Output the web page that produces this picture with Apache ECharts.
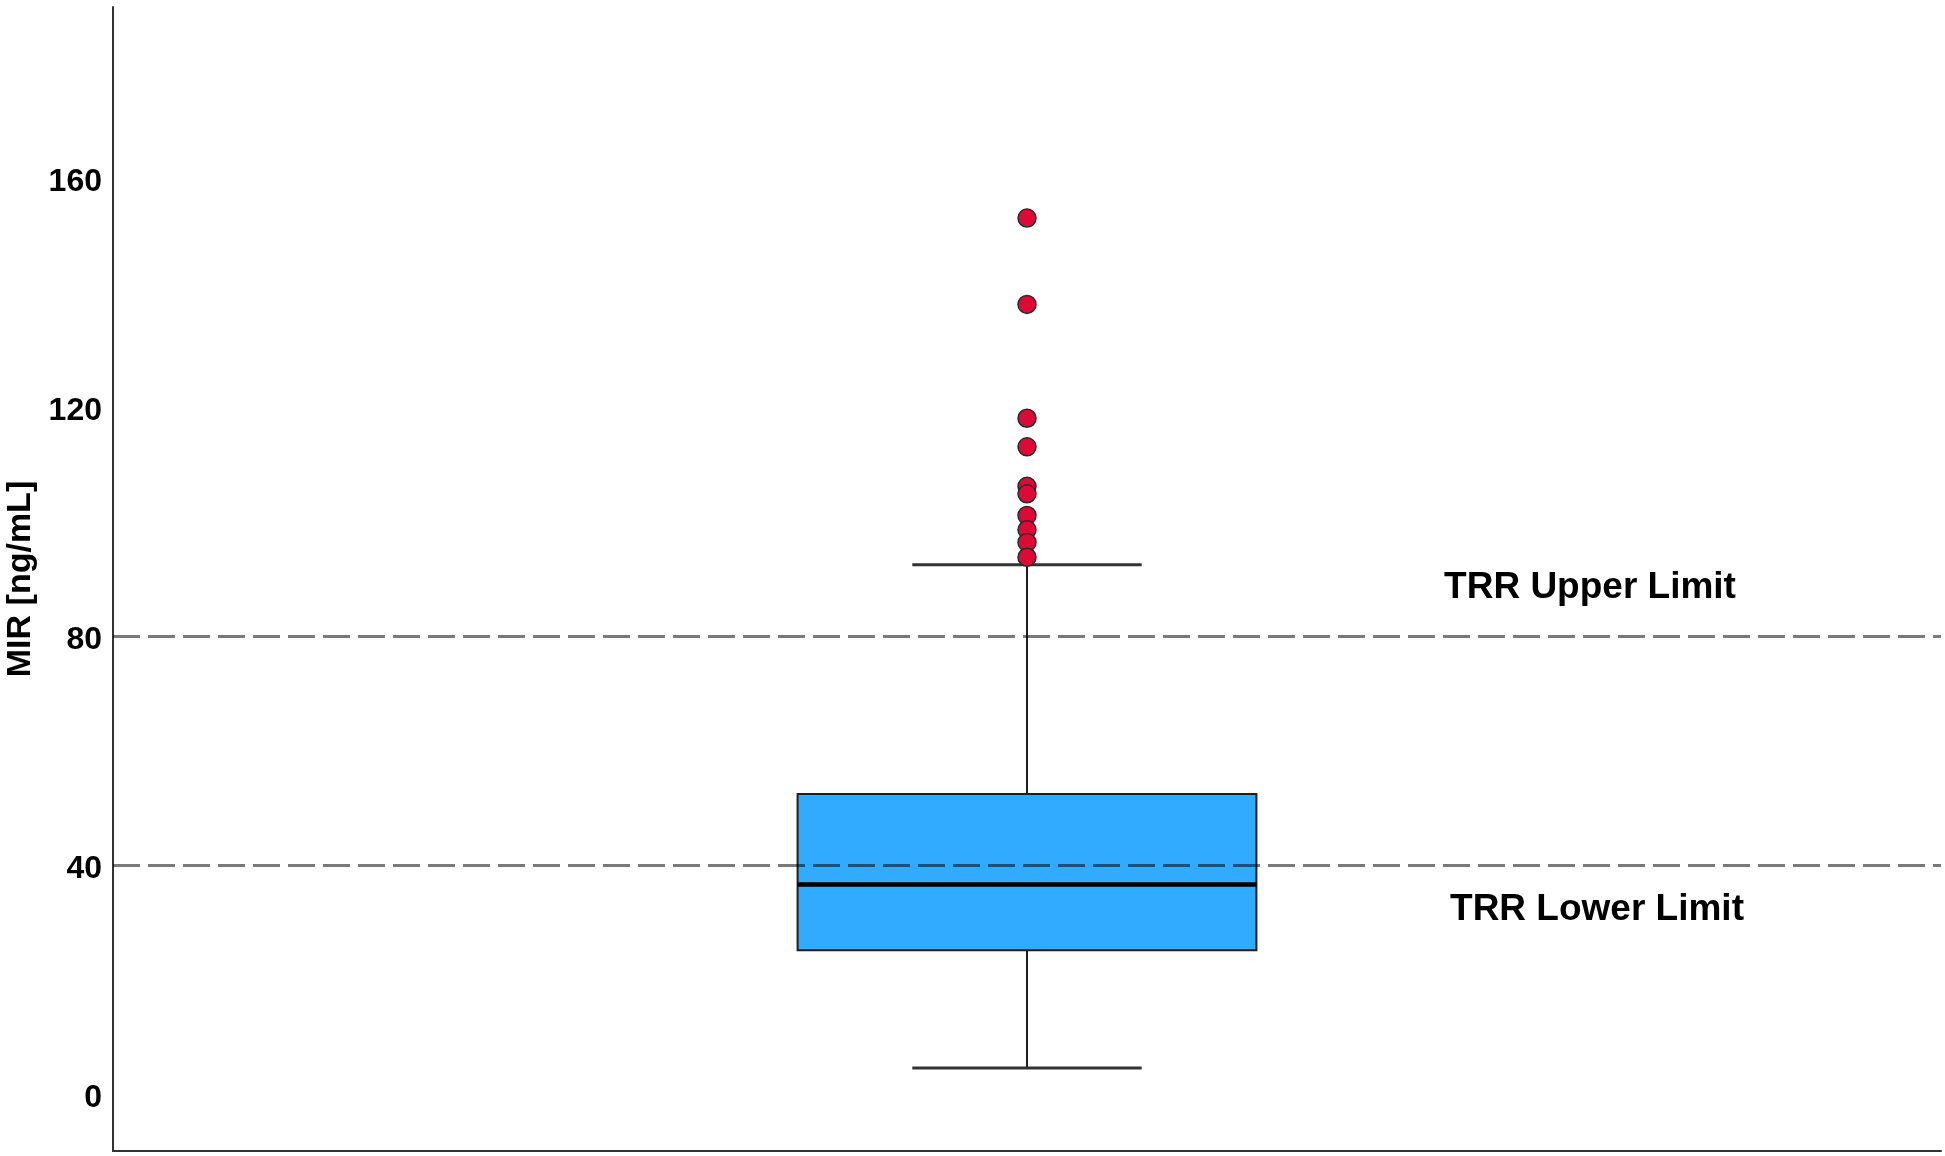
<!DOCTYPE html>
<html>
<head>
<meta charset="utf-8">
<script src="https://cdn.jsdelivr.net/npm/echarts@6/dist/echarts.min.js"></script>
<style>
html,body{margin:0;padding:0;background:#fff;}
#chart{width:1945px;height:1156px;}
</style>
</head>
<body>
<div id="chart"></div>
<script>
// ---- data ----
const categories = ['MIR'];
// [min whisker, Q1, median, Q3, max whisker]
const boxStats = [4.5, 25.1, 36.6, 52.4, 92.5];
const outliers = [153.1, 138.0, 118.1, 113.1, 106.2, 104.9, 101.1, 98.6, 96.4, 93.8];
const yTickLabels = [0, 40, 80, 120, 160];
const refLines = [80, 40];
const refLabels = ['TRR Upper Limit', 'TRR Lower Limit'];
const refLabelValues = [88.5, 32.1];

const chart = echarts.init(document.getElementById('chart'), null, {renderer: 'canvas'});

const labelFont = '"Liberation Sans Narrow", "Arial Narrow", "Liberation Sans", Arial, sans-serif';

const option = {
  backgroundColor: '#ffffff',
  animation: false,
  grid: {left: 113, right: 4, top: 7, bottom: 5, containLabel: false, outerBoundsMode: 'none'},
  xAxis: {
    type: 'category',
    data: categories,
    boundaryGap: true,
    axisLine: {show: true, onZero: false, lineStyle: {color: '#333', width: 2}},
    axisTick: {show: false},
    axisLabel: {show: false},
    splitLine: {show: false}
  },
  yAxis: {
    type: 'value',
    min: -10,
    max: 190,
    interval: 10,
    name: 'MIR [ng/mL]',
    nameLocation: 'middle',
    nameGap: 75,
    nameRotate: 90,
    nameTextStyle: {
      fontFamily: '"Liberation Sans", Arial, sans-serif',
      fontWeight: 'bold',
      fontSize: 34,
      color: '#000'
    },
    axisLine: {show: true, lineStyle: {color: '#333', width: 2}},
    axisTick: {show: false},
    splitLine: {show: false},
    axisLabel: {
      margin: 11,
      fontFamily: labelFont,
      fontWeight: 'bold',
      fontSize: 32,
      color: '#000',
      verticalAlign: 'top',
      lineHeight: 8,
      formatter: function (v) {
        return yTickLabels.indexOf(v) >= 0 ? String(v) : '';
      }
    }
  },
  series: [
    {
      type: 'custom',
      name: 'box',
      z: 2,
      data: [[0].concat(boxStats)],
      encode: {x: 0, y: [1, 2, 3, 4, 5]},
      renderItem: function (params, api) {
        const xi = api.value(0);
        const pMin = api.coord([xi, api.value(1)]);
        const pQ1 = api.coord([xi, api.value(2)]);
        const pMed = api.coord([xi, api.value(3)]);
        const pQ3 = api.coord([xi, api.value(4)]);
        const pMax = api.coord([xi, api.value(5)]);
        const band = api.size([1, 0])[0];
        const bw = band * 0.251;
        const cw = bw / 2;
        const cx = pMed[0];
        const lineStyle = {stroke: '#1e1e1e', lineWidth: 2};
        return {
          type: 'group',
          children: [
            {type: 'line', shape: {x1: cx, y1: pQ3[1], x2: cx, y2: pMax[1]}, style: lineStyle},
            {type: 'line', shape: {x1: cx, y1: pQ1[1], x2: cx, y2: pMin[1]}, style: lineStyle},
            {type: 'line', shape: {x1: cx - cw / 2, y1: pMax[1], x2: cx + cw / 2, y2: pMax[1]}, style: {stroke: '#333', lineWidth: 3}},
            {type: 'line', shape: {x1: cx - cw / 2, y1: pMin[1], x2: cx + cw / 2, y2: pMin[1]}, style: {stroke: '#333', lineWidth: 3}},
            {type: 'rect', shape: {x: cx - bw / 2, y: pQ3[1], width: bw, height: pQ1[1] - pQ3[1]},
              style: {fill: '#30abff', stroke: '#1e1e1e', lineWidth: 2}},
            {type: 'line', shape: {x1: cx - bw / 2, y1: pMed[1], x2: cx + bw / 2, y2: pMed[1]},
              style: {stroke: '#000', lineWidth: 4.5}}
          ]
        };
      }
    },
    {
      type: 'scatter',
      name: 'outliers',
      z: 4,
      symbol: 'circle',
      symbolSize: 18,
      itemStyle: {color: '#dc0a34', borderColor: '#2a2a2a', borderWidth: 1.5, opacity: 1},
      data: outliers.map(function (v) { return [0, v]; }),
      markLine: {
        silent: true,
        symbol: ['none', 'none'],
        animation: false,
        label: {show: false},
        lineStyle: {color: 'rgba(0,0,0,0.52)', width: 3, type: [27, 8]},
        emphasis: {disabled: true},
        data: refLines.map(function (v) { return {yAxis: v}; })
      }
    }
  ]
};
chart.setOption(option);

const labelX = [1590, 1597];
chart.setOption({
  graphic: refLabels.map(function (t, i) {
    const y = chart.convertToPixel({yAxisIndex: 0}, refLabelValues[i]);
    return {
      type: 'text',
      x: labelX[i],
      y: y,
      style: {
        text: t,
        fontFamily: '"Liberation Sans", Arial, sans-serif',
        fontWeight: 'bold',
        fontSize: 37,
        fill: '#000',
        align: 'center',
        verticalAlign: 'middle'
      }
    };
  })
});
</script>
</body>
</html>
